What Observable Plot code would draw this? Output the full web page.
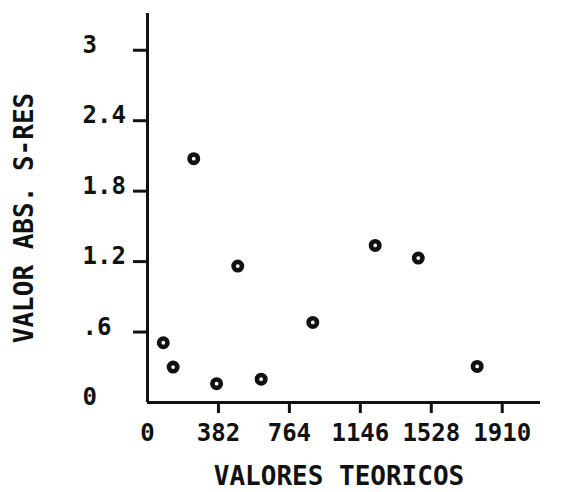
<!DOCTYPE html>
<html>
<head>
<meta charset="utf-8">
<script src="https://cdn.jsdelivr.net/npm/d3@7"></script>
<script src="https://cdn.jsdelivr.net/npm/@observablehq/plot@0.6"></script>
<style>
  html, body { margin: 0; padding: 0; background: #fff; }
  svg text { font-variant-numeric: slashed-zero; font-feature-settings: "zero" 1; }
</style>
</head>
<body>
<div id="chart"></div>
<script>
// Data
const xValues = [85, 138, 249, 372, 486, 612, 890, 1226, 1458, 1775];
const yValues = [0.509, 0.302, 2.077, 0.160, 1.162, 0.199, 0.682, 1.338, 1.230, 0.307];

const xTicks = [0, 382, 764, 1146, 1528, 1910];
const xTickLabels = ["0", "382", "764", "1146", "1528", "1910"];
const yTicks = [0, 0.6, 1.2, 1.8, 2.4, 3];
const yTickLabels = ["0", ".6", "1.2", "1.8", "2.4", "3"];

const xTitle = "VALORES TEORICOS";
const yTitle = "VALOR ABS. S-RES";

const points = xValues.map((x, i) => ({x, y: yValues[i]}));
const xTickData = xTicks.map((v, i) => ({v, label: xTickLabels[i]}));
const yTickData = yTicks.map((v, i) => ({v, label: yTickLabels[i]}));

const font = "'DejaVu Sans Mono', monospace";
const ink = "#111";

const chart = Plot.plot({
  width: 567,
  height: 492,
  marginLeft: 147,
  marginRight: 27,
  marginTop: 13,
  marginBottom: 90,
  style: {fontFamily: font, fontWeight: "bold", background: "#fff", color: ink},
  x: {domain: [0, 2116], axis: null},
  y: {domain: [0, 3.313], axis: null},
  marks: [
    Plot.ruleX([0], {stroke: ink, strokeWidth: 3}),
    Plot.ruleY([0], {stroke: ink, strokeWidth: 3}),
    Plot.axisX({ticks: xTicks.slice(1), tickSize: 11, tickFormat: () => "", strokeWidth: 3, stroke: ink, label: null}),
    Plot.axisY({ticks: yTicks.slice(1), tickSize: 14, tickFormat: () => "", strokeWidth: 3, stroke: ink, label: null}),
    Plot.text(xTickData, {x: "v", text: "label", frameAnchor: "bottom", dy: 31, fontSize: 24, fill: ink, lineAnchor: "middle"}),
    Plot.text(yTickData, {y: "v", text: "label", frameAnchor: "left", dx: -65, dy: -5, textAnchor: "start", fontSize: 24, fill: ink, lineAnchor: "middle"}),
    Plot.text([xTitle], {text: d => d, frameAnchor: "bottom", dy: 74, dx: -5, fontSize: 26, fill: ink, lineAnchor: "middle", textAnchor: "middle"}),
    Plot.text([yTitle], {text: d => d, frameAnchor: "left", dx: -123, dy: 10, rotate: -90, fontSize: 26, fill: ink, lineAnchor: "middle", textAnchor: "middle"}),
    Plot.dot(points, {x: "x", y: "y", r: 4.2, stroke: ink, strokeWidth: 4.6, fill: "#fff"})
  ]
});
document.getElementById("chart").appendChild(chart);
</script>
</body>
</html>
